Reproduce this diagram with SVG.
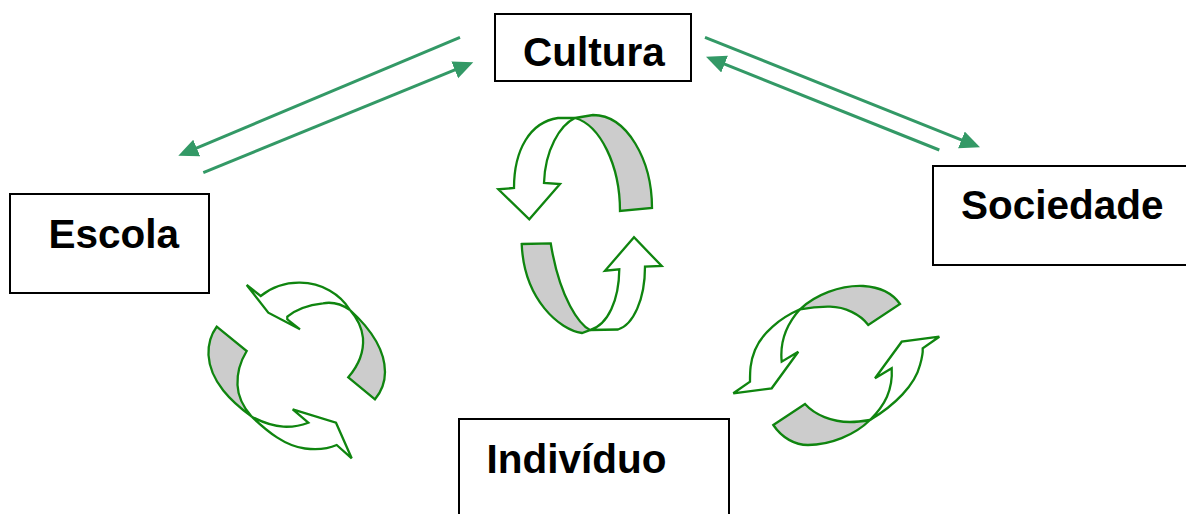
<svg xmlns="http://www.w3.org/2000/svg" width="1186" height="514" viewBox="0 0 1186 514">
<style>
.box{fill:#ffffff;stroke:#000000;stroke-width:2}
.lbl{font-family:"Liberation Sans",Arial,sans-serif;font-weight:bold;font-size:40.5px;fill:#000000}
.conn{stroke:#339966;stroke-width:3;fill:none}
.cw{fill:#ffffff;stroke:#0f850f;stroke-width:2.3;stroke-linejoin:miter}
.cg{fill:#cccccc;stroke:#0f850f;stroke-width:2.3;stroke-linejoin:miter}
</style>
<defs>
<marker id="ah" markerUnits="userSpaceOnUse" markerWidth="22" markerHeight="20" refX="10" refY="9" orient="auto">
<path d="M0,0 L20,9 L0,18 Z" fill="#339966"/>
</marker>
</defs>
<rect width="1186" height="514" fill="#ffffff"/>
<g id="connectors">
<line class="conn" x1="460" y1="37.3" x2="187.5" y2="151.8" marker-end="url(#ah)"/>
<line class="conn" x1="203.3" y1="172.7" x2="464" y2="66.1" marker-end="url(#ah)"/>
<line class="conn" x1="705" y1="37.3" x2="970.7" y2="143.6" marker-end="url(#ah)"/>
<line class="conn" x1="939.3" y1="150" x2="715.3" y2="60.4" marker-end="url(#ah)"/>
</g>
<g id="cycle-center">
<path class="cg" d="M593,115 C627,115 652,160 652,208 L620,211 C620,165 600,125 575,118 Z"/>
<path class="cw" d="M514,188 C514,150 530,122 558,118 L575,118 C560,125 545,150 544,183 L560,184 L529.3,219.3 L498.3,189.3 Z"/>
<path class="cg" d="M521.7,244 L550.7,243.3 C560,300 580,325 590,330 L582,333 C560,330 524,300 521.7,244 Z"/>
<path class="cw" d="M590,330 L618,329.5 C633,325 645,300 645,266.7 L661.7,266 L634,237.3 L605,270.7 L619.3,269.3 C619,300 608,325 590,330 Z"/>
</g>
<g id="cycle-left">
<path class="cw" d="M260.7,296 C272,287 286,282.5 300,282.7 C322,283 340,294 350,310 C340,303 330,302 323,303.3 C308,305 295,310 287.3,316.7 L287.3,319.3 L300,329.3 L268.3,312.7 L246.7,285 Z"/>
<path class="cg" d="M350,310 C372,330 385,352 385,372 C385,384 381,392 375,399.3 L348.3,377.3 C358,366 364,352 363,338 C362,328 357,318 350,310 Z"/>
<path class="cg" d="M216.7,326.7 L246.7,351 C240,362 237,375 237.5,385 C238,398 244,408 251.7,416.7 C232,402 210,382 208.5,355 C208,343 212,333 216.7,326.7 Z"/>
<path class="cw" d="M251.7,416.7 C268,432 285,446 305,448.5 C318,450 330,448 336.7,445 L351.7,458.3 L336,422.7 L292.7,409.3 L308.3,422.7 C300,426 290,427 283.3,426.7 C273,426 262,422 251.7,416.7 Z"/>
</g>
<g id="cycle-right">
<path class="cg" d="M800,309.3 C815,295 840,285 863.3,286 C880,287 893,294 900,304 L868.3,325 C860,314 845,307 830,306.7 C818,306.5 807,308 800,309.3 Z"/>
<path class="cw" d="M800,309.3 C780,318 762,333 755,350 C750,362 750,372 750,381.7 L733.3,393.3 L771.7,388.3 L798.3,351.7 L781.7,361.7 C780,345 784,327 800,309.3 Z"/>
<path class="cg" d="M773.3,425 L805,404 C815,415 832,422 850,422 C857,422 864,421 870,420 C855,435 830,445 808,445 C795,445 782,438 773.3,425 Z"/>
<path class="cw" d="M870,420 C895,405 915,385 920,365 C922,358 923,352 922.7,348.3 L939.3,336.7 L901.7,341.7 L875,378.3 L891.7,368.3 C893,390 885,405 870,420 Z"/>
</g>
<g id="node-cultura">
<rect class="box" x="495" y="14" width="196" height="67"/>
<text class="lbl" x="523" y="65.5">Cultura</text>
</g>
<g id="node-escola">
<rect class="box" x="10" y="194" width="199" height="99"/>
<text class="lbl" x="48.5" y="248">Escola</text>
</g>
<g id="node-sociedade">
<rect class="box" x="933" y="166" width="262" height="99"/>
<text class="lbl" x="961" y="218.5">Sociedade</text>
</g>
<g id="node-individuo">
<rect class="box" x="459" y="419" width="270" height="110"/>
<text class="lbl" x="486.5" y="473">Indivíduo</text>
</g>
</svg>
